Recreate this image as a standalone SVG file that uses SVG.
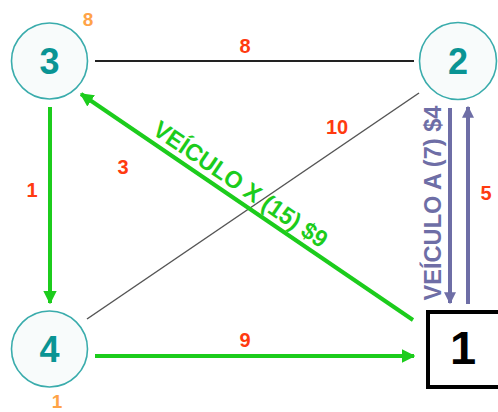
<svg xmlns="http://www.w3.org/2000/svg" width="498" height="412" viewBox="0 0 498 412">
<defs>
<style>
.node{fill:#f8fbfb;stroke:#3aacac;stroke-width:1.6}
.nlab{font-family:"Liberation Sans",Arial,sans-serif;font-weight:bold;font-size:36px;fill:#0a9494;text-anchor:middle}
.w{font-family:"Liberation Sans",Arial,sans-serif;font-weight:bold;font-size:20px;fill:#ff3a10;text-anchor:middle}
.o{font-family:"Liberation Sans",Arial,sans-serif;font-weight:bold;font-size:19px;fill:#ffa347;text-anchor:middle}
.g{stroke:#1ccc1c;stroke-width:4;fill:none}
.p{stroke:#6e6ea6;stroke-width:4;fill:none}
.veh{font-family:"Liberation Sans",Arial,sans-serif;font-weight:bold;font-size:24px;text-anchor:middle}
</style>
<marker id="ag" viewBox="0 0 10 10" refX="9" refY="5" markerWidth="3.4" markerHeight="3.4" orient="auto" markerUnits="strokeWidth"><path d="M0,0 L10,5 L0,10 z" fill="#1ccc1c"/></marker>
<marker id="ap" viewBox="0 0 10 10" refX="9" refY="5" markerWidth="4" markerHeight="3" orient="auto" markerUnits="strokeWidth"><path d="M0,0 L10,5 L0,10 z" fill="#6e6ea6"/></marker>
</defs>
<rect width="498" height="412" fill="#ffffff"/>
<g id="connectors">
<line x1="95" y1="61" x2="414" y2="61" stroke="#222" stroke-width="2"/>
<line x1="419" y1="93" x2="87" y2="319" stroke="#555" stroke-width="1.5"/>
<line x1="50" y1="107" x2="50" y2="303" class="g" marker-end="url(#ag)"/>
<line x1="95" y1="356" x2="414" y2="356" class="g" marker-end="url(#ag)"/>
<line x1="413" y1="320" x2="81" y2="94" class="g" marker-end="url(#ag)"/>
<line x1="450" y1="108" x2="450" y2="303" class="p" marker-end="url(#ap)"/>
<line x1="468" y1="304" x2="468" y2="107" class="p" marker-end="url(#ap)"/>
<text class="w" x="245" y="53">8</text>
<text class="w" x="32" y="197">1</text>
<text class="w" x="245" y="347">9</text>
<text class="w" x="337" y="134">10</text>
<text class="w" x="123" y="174">3</text>
<text class="w" x="486" y="200">5</text>
<text class="veh" fill="#1ccc1c" transform="translate(236,191) rotate(34.3)" textLength="205" lengthAdjust="spacingAndGlyphs">VEÍCULO X (15) $9</text>
<text class="veh" fill="#6e6ea6" transform="translate(441,203) rotate(-90)" textLength="195" lengthAdjust="spacingAndGlyphs">VEÍCULO A (7) $4</text>
</g>
<g id="node3">
<circle class="node" cx="49.5" cy="61" r="38"/>
<text class="nlab" x="49.5" y="74">3</text>
<text class="o" x="88" y="26">8</text>
</g>
<g id="node2">
<circle class="node" cx="458" cy="61" r="38.5"/>
<text class="nlab" x="458" y="74">2</text>
</g>
<g id="node4">
<circle class="node" cx="49.5" cy="349" r="38"/>
<text class="nlab" x="49.5" y="362">4</text>
<text class="o" x="57" y="408" font-size="17">1</text>
</g>
<g id="node1">
<rect x="428" y="312" width="72" height="75" fill="#ffffff" stroke="#000" stroke-width="4"/>
<text x="463" y="364" font-family="Liberation Sans,Arial,sans-serif" font-weight="bold" font-size="47" text-anchor="middle" fill="#000">1</text>
</g>
</svg>
